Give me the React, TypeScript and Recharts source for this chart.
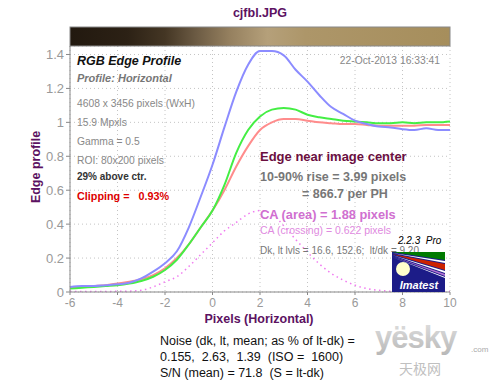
import React from 'react';
import { ComposedChart, Line, XAxis, YAxis, CartesianGrid } from 'recharts';

const pixels = [-6, -5.5, -5, -4.5, -4, -3.5, -3, -2.5, -2, -1.5, -1, -0.5, 0, 0.5, 1, 1.5, 2, 2.5, 3, 3.5, 4, 4.5, 5, 5.5, 6, 6.5, 7, 7.5, 8, 8.5, 9, 9.5, 10];
const blueProfile = [0.03, 0.035, 0.035, 0.04, 0.045, 0.055, 0.08, 0.12, 0.17, 0.24, 0.38, 0.56, 0.75, 0.97, 1.18, 1.34, 1.42, 1.42, 1.395, 1.31, 1.24, 1.16, 1.09, 1.05, 1.01, 0.99, 0.975, 0.97, 0.96, 0.955, 0.965, 0.955, 0.955];
const greenProfile = [0.02, 0.025, 0.03, 0.035, 0.04, 0.05, 0.065, 0.09, 0.13, 0.19, 0.28, 0.38, 0.48, 0.63, 0.82, 0.955, 1.035, 1.075, 1.085, 1.075, 1.045, 1.03, 1.02, 1.01, 1.005, 1.0, 0.995, 0.995, 1.0, 0.995, 1.0, 1.0, 1.005];
const redProfile = [0.025, 0.03, 0.035, 0.04, 0.05, 0.06, 0.075, 0.1, 0.14, 0.2, 0.28, 0.38, 0.48, 0.6, 0.74, 0.86, 0.955, 1.0, 1.02, 1.02, 1.01, 1.0, 0.995, 0.99, 0.99, 0.985, 0.98, 0.98, 0.98, 0.98, 0.985, 0.985, 0.985];
const caDifference = [0.003, 0.003, 0.003, 0.003, 0.004, 0.005, 0.01, 0.03, 0.06, 0.09, 0.15, 0.22, 0.29, 0.36, 0.41, 0.46, 0.48, 0.46, 0.39, 0.31, 0.235, 0.165, 0.11, 0.07, 0.04, 0.02, 0.01, 0.005, 0.005, 0.01, 0.005, 0.003, 0.003];

const xTicks = [-6, -4, -2, 0, 2, 4, 6, 8, 10];
const yTicks = [0, 0.2, 0.4, 0.6, 0.8, 1, 1.2, 1.4];

const infoLines = ['4608 x 3456 pixels (WxH)', '15.9 Mpxls', 'Gamma = 0.5', 'ROI: 80x200 pixels'];
const noiseLines = ['Noise (dk, lt, mean; as % of lt-dk) =', '0.155,  2.63,  1.39  (ISO =  1600)', 'S/N (mean) = 71.8  (S = lt-dk)'];

const data = pixels.map((x, i) => ({
  x,
  blue: blueProfile[i],
  green: greenProfile[i],
  red: redProfile[i],
  ca: caDifference[i],
}));

const FONT = '"Liberation Sans", Arial, sans-serif';
const NARROW = '"Liberation Sans Narrow", "Liberation Sans", Arial, sans-serif';
const PURPLE = '#5c1262';

export default function App() {
  return (
    <div style={{ position: 'absolute', left: 0, top: 0, width: 500, height: 384, background: '#fff' }}>
      <ComposedChart width={500} height={384} data={data} margin={{ top: 46, right: 50, bottom: 72, left: 30 }}>
        <CartesianGrid xAxisId="b" yAxisId="l" stroke="#c4c4c4" strokeDasharray="1 3" />
        <XAxis
          xAxisId="b"
          dataKey="x"
          type="number"
          domain={[-6, 10]}
          ticks={xTicks}
          interval={0}
          height={20}
          tickSize={3}
          tickMargin={3}
          axisLine={{ stroke: '#888' }}
          tickLine={{ stroke: '#888' }}
          tick={{ fill: '#999', fontSize: 12, fontFamily: NARROW }}
          allowDataOverflow
        />
        <XAxis
          xAxisId="t"
          orientation="top"
          dataKey="x"
          type="number"
          domain={[-6, 10]}
          ticks={xTicks}
          interval={0}
          height={0}
          mirror
          tick={false}
          tickSize={5}
          axisLine={{ stroke: '#888' }}
          tickLine={{ stroke: '#888' }}
          allowDataOverflow
        />
        <YAxis
          yAxisId="l"
          type="number"
          domain={[0, 1.45]}
          ticks={yTicks}
          interval={0}
          width={40}
          tickSize={4}
          tickMargin={2}
          axisLine={{ stroke: '#888' }}
          tickLine={{ stroke: '#888' }}
          tick={{ fill: '#999', fontSize: 13, fontFamily: NARROW }}
          allowDataOverflow
        />
        <YAxis
          yAxisId="r"
          orientation="right"
          type="number"
          domain={[0, 1.45]}
          ticks={yTicks}
          interval={0}
          width={0}
          mirror
          tick={false}
          tickSize={5}
          axisLine={{ stroke: '#888' }}
          tickLine={{ stroke: '#888' }}
          allowDataOverflow
        />
        <Line xAxisId="b" yAxisId="l" type="monotone" dataKey="ca" stroke="#f07af0" strokeWidth={1.5} strokeDasharray="1.5 3.5" dot={false} isAnimationActive={false} />
        <Line xAxisId="b" yAxisId="l" type="monotone" dataKey="red" stroke="#ff8c8c" strokeWidth={2} dot={false} isAnimationActive={false} />
        <Line xAxisId="b" yAxisId="l" type="monotone" dataKey="green" stroke="#44ee44" strokeWidth={2} dot={false} isAnimationActive={false} />
        <Line xAxisId="b" yAxisId="l" type="monotone" dataKey="blue" stroke="#8c8cff" strokeWidth={2} dot={false} isAnimationActive={false} />
      </ComposedChart>
      <svg width={500} height={384} style={{ position: 'absolute', left: 0, top: 0, pointerEvents: 'none' }}>
        <defs>
          <linearGradient id="barGrad" x1="0" y1="0" x2="1" y2="0">
            <stop offset="0" stopColor="#22190f" />
            <stop offset="0.15" stopColor="#2c2115" />
            <stop offset="0.25" stopColor="#443624" />
            <stop offset="0.33" stopColor="#6b5a43" />
            <stop offset="0.42" stopColor="#95805f" />
            <stop offset="0.52" stopColor="#b5a07a" />
            <stop offset="0.62" stopColor="#ad9669" />
            <stop offset="1" stopColor="#a68e5c" />
          </linearGradient>
          <linearGradient id="wmGrad" x1="0" y1="0" x2="0" y2="1">
            <stop offset="0" stopColor="#e0e0e0" />
            <stop offset="1" stopColor="#b8b8b8" />
          </linearGradient>
        </defs>
        <text x={260} y={17} textAnchor="middle" fontFamily={FONT} fontWeight="bold" fontSize={12.5} fill={PURPLE}>cjfbl.JPG</text>
        <rect x={70} y={27} width={380} height={19} fill="url(#barGrad)" stroke="#888" strokeWidth={1} />

        <text x={77} y={65} fontFamily={FONT} fontWeight="bold" fontStyle="italic" fontSize={12.5} fill="#111">RGB Edge Profile</text>
        <text x={77} y={82} fontFamily={FONT} fontWeight="bold" fontStyle="italic" fontSize={11} fill="#777">Profile: Horizontal</text>
        {infoLines.map((t, i) => (
          <text key={t} x={77} y={106.5 + i * 19} fontFamily={FONT} fontSize={10.3} fill="#888">{t}</text>
        ))}
        <text x={77} y={180} fontFamily={FONT} fontWeight="bold" fontSize={10} fill="#333">29% above ctr.</text>
        <text x={77} y={200} fontFamily={FONT} fontWeight="bold" fontSize={10.8} fill="#dd0000" style={{ whiteSpace: 'pre' }}>Clipping =   0.93%</text>
        <text x={440} y={64} textAnchor="end" fontFamily={FONT} fontSize={10.3} fill="#888">22-Oct-2013 16:33:41</text>

        <text x={260} y={161} fontFamily={FONT} fontWeight="bold" fontSize={13} fill="#6b0f3f">Edge near image center</text>
        <text x={260} y={181} fontFamily={FONT} fontWeight="bold" fontSize={12.5} fill="#777">10-90% rise = 3.99 pixels</text>
        <text x={302} y={197.5} fontFamily={FONT} fontWeight="bold" fontSize={12.5} fill="#777">= 866.7 per PH</text>
        <text x={260} y={218.5} fontFamily={FONT} fontWeight="bold" fontSize={12.8} fill="#d070d0">CA (area) = 1.88 pixels</text>
        <text x={260} y={234} fontFamily={FONT} fontSize={10.5} fill="#e08ae0">CA (crossing) = 0.622 pixels</text>
        <text x={260} y={254} fontFamily={FONT} fontSize={10} fill="#777" style={{ whiteSpace: 'pre' }}>Dk, lt lvls = 16.6, 152.6;  lt/dk = 9.20</text>

        <text x={398} y={243.5} fontFamily={FONT} fontStyle="italic" fontSize={10} fill="#000" style={{ whiteSpace: 'pre' }}>2.2.3  Pro</text>
        <g>
          <rect x={392} y={252} width={53} height={40} fill="#1c1c88" />
          <polygon points="392,252 445,252 445,260" fill="#007a00" />
          <polygon points="392,253 445,261 445,263" fill="#ffffff" />
          <polygon points="392,254 445,264 445,270" fill="#cc2200" />
          <polygon points="392,255 445,271 445,273" fill="#ffffff" />
          <polygon points="392,256 445,274 445,276" fill="#b070d0" />
          <polygon points="392,257 445,277 445,278" fill="#ffffff" />
          <circle cx={403} cy={269} r={7} fill="#ffffcc" />
          <text x={419} y={288.5} textAnchor="middle" fontFamily={FONT} fontWeight="bold" fontStyle="italic" fontSize={11} fill="#ffffff">Imatest</text>
        </g>

        <text x={259} y={323} textAnchor="middle" fontFamily={FONT} fontWeight="bold" fontSize={12.5} fill={PURPLE}>Pixels (Horizontal)</text>
        <text x={0} y={0} transform="translate(40,167) rotate(-90)" textAnchor="middle" fontFamily={FONT} fontWeight="bold" fontSize={12.5} fill={PURPLE}>Edge profile</text>

        {noiseLines.map((t, i) => (
          <text key={t} x={160} y={345 + i * 16} fontFamily={FONT} fontSize={12.5} fill="#111" style={{ whiteSpace: 'pre' }}>{t}</text>
        ))}

        <text x={375} y={348} fontFamily={FONT} fontWeight="bold" fontSize={31} letterSpacing={-1} fill="url(#wmGrad)">yësky</text>
        <text x={471} y={352} fontFamily={FONT} fontSize={8} fill="#aaa">.com</text>
        <text x={399} y={374} fontFamily='"Noto Sans CJK SC", sans-serif' fontSize={14} fill="#c0c0c0">天极网</text>
      </svg>
    </div>
  );
}
